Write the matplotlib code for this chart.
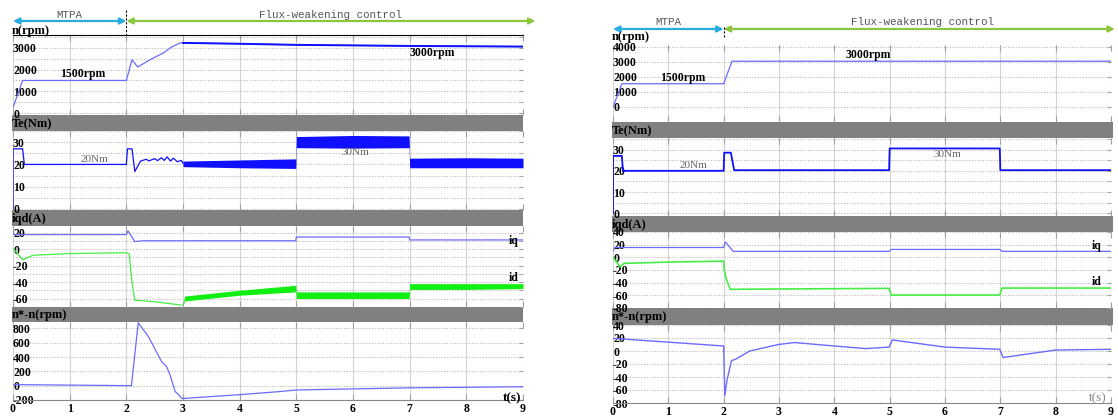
"""Speed, torque and current waveforms: measured (left) and simulated (right)."""

import matplotlib

matplotlib.use("Agg")
import matplotlib.pyplot as plt
from matplotlib.ticker import MultipleLocator

plt.rcParams["axes.unicode_minus"] = False

W, H = 1118, 416

# ---------------- left panel (measured) ----------------
t_n_left = [0, 0.17, 2.0, 2.1, 2.2, 2.45, 2.65, 2.8, 2.95, 3.0, 4.0, 5.0, 7.0, 9.0]
n_left = [250, 1500, 1500, 2450, 2120, 2500, 2760, 3040, 3230, 3230, 3190, 3140, 3090, 3060]

t_te_left = [0, 0.001, 0.17, 0.2, 2.0, 2.02, 2.1, 2.15, 2.25, 2.35, 2.4, 2.5, 2.55,
             2.62, 2.67, 2.72, 2.78, 2.83, 2.9, 2.97, 3.0]
te_left = [0, 27, 27, 20, 20, 27, 27, 16.8, 21.5, 22.3, 21.6, 22.6, 21.7,
           23.0, 21.8, 23.4, 21.5, 22.8, 21.2, 21.8, 20.5]
# noisy torque band after t = 3 s (lower / upper envelope)
t_te_band_left = [3.0, 4.0, 4.99, 5.0, 6.0, 6.99, 7.0, 8.0, 9.0]
te_lo_left = [19.0, 18.5, 18.2, 27.5, 27.3, 27.5, 18.5, 18.5, 18.5]
te_hi_left = [21.5, 22.0, 22.5, 32.5, 33.0, 32.8, 22.8, 23.0, 22.8]

t_iq_left = [0, 0.02, 2.0, 2.03, 2.15, 2.3, 4.99, 5.0, 6.99, 7.0, 9.0]
iq_left = [20, 17.5, 17.5, 22, 9, 10, 10, 14.5, 14.5, 11, 11]

t_id_left = [0, 0.17, 0.36, 1.0, 2.0, 2.05, 2.1, 2.15, 2.5, 2.98]
id_left = [1, -13, -7.5, -5.5, -4.5, -6, -40, -62, -64, -68]
t_id_band_left = [3.0, 3.03, 4.0, 4.99, 5.0, 6.0, 6.99, 7.0, 8.0, 9.0]
id_lo_left = [-68, -63, -56, -52, -60, -60, -60, -49, -49, -48]
id_hi_left = [-68, -57, -50, -44, -52, -52, -52, -42, -42, -42]

t_err_left = [0, 2.09, 2.21, 2.39, 2.62, 2.71, 2.77, 2.86, 2.95, 2.98, 4.0, 4.7, 5.0, 7.0, 9.0]
err_left = [15, 0, 879, 685, 338, 268, 153, -79, -149, -180, -125, -83, -60, -30, -15]

# ---------------- right panel (simulated) ----------------
t_n_right = [0, 0.16, 2.0, 2.15, 9.0]
n_right = [0, 1550, 1550, 3050, 3050]

t_te_right = [0, 0.001, 0.16, 0.18, 2.0, 2.01, 2.13, 2.19, 4.99, 5.0, 6.99, 7.0, 9.0]
te_right = [0, 27, 27, 20, 20, 28.5, 28.5, 20.3, 20.3, 30.5, 30.5, 20.3, 20.3]

t_iq_right = [0, 0.03, 2.0, 2.03, 2.17, 4.99, 5.03, 6.99, 7.03, 9.0]
iq_right = [10, 15.5, 15.5, 24.5, 9.5, 9.5, 12.5, 12.5, 9.5, 9.5]

t_id_right = [0, 0.13, 0.2, 1.0, 2.0, 2.01, 2.05, 2.12, 4.99, 5.03, 6.99, 7.03, 9.0]
id_right = [0, -15, -9.5, -7.5, -6, -20, -35, -50.5, -49, -59.5, -59.5, -48.5, -48.5]

t_err_right = [0, 2.0, 2.01, 2.02, 2.06, 2.14, 2.23, 2.47, 2.99, 3.28, 4.0, 4.57, 4.99,
               5.05, 6.0, 6.99, 7.05, 8.0, 9.0]
err_right = [19.5, 7.7, -30, -69, -45, -15, -12, 0, 10, 13, 7.7, 3.7, 6,
             17, 6, 2.6, -10, 1.5, 2.6]

x_ticks = [0, 1, 2, 3, 4, 5, 6, 7, 8, 9]
n_ticks_right = [0, 1000, 2000, 3000, 4000]

BLUE = "#6b6bff"
DBLUE = "#1010ff"
GREEN = "#44ee44"
BGREEN = "#11ee11"
CYAN = "#29abe2"
LGREEN = "#8cc63f"
BAND = "#808080"
SERIF = "Liberation Serif"


def add_box(fig, x0, x1, top, bottom):
    """Add an axes given pixel edges (top-left origin)."""
    return fig.add_axes([x0 / W, 1 - bottom / H, (x1 - x0) / W, (bottom - top) / H])


def style(ax, ylim, major, minor, bottom_axis=False, yticks=None):
    ax.set_xlim(0, 9)
    ax.set_ylim(*ylim)
    ax.set_facecolor("white")
    for s in ax.spines.values():
        s.set_visible(False)
    ax.set_xticks(x_ticks)
    if yticks is not None:
        ax.set_yticks(yticks)
    else:
        ax.yaxis.set_major_locator(MultipleLocator(major))
    if minor:
        ax.yaxis.set_minor_locator(MultipleLocator(minor))
    ax.xaxis.grid(True, color="#d4d4d4", lw=0.8)
    ax.yaxis.grid(True, which="both", ls=(0, (1, 1.5)), color="#b8b8b8", lw=0.8)
    ax.tick_params(axis="x", direction="in", top=True, bottom=True, length=4,
                   color="#a0a0a0", labelbottom=bottom_axis, pad=2)
    ax.tick_params(axis="y", which="both", direction="in", left=False, right=True,
                   length=3, color="#a0a0a0", pad=0)
    for lab in ax.get_yticklabels():
        lab.set_horizontalalignment("left")
        lab.set_fontfamily(SERIF)
        lab.set_fontweight("bold")
        lab.set_fontsize(8.5)
    for lab in ax.get_xticklabels():
        lab.set_fontfamily(SERIF)
        lab.set_fontweight("bold")
        lab.set_fontsize(8.5)
    if bottom_axis:
        ax.spines["bottom"].set_visible(True)
        ax.spines["bottom"].set_color("#888888")


def band(fig, x0, x1, top, bottom, label):
    ax = add_box(fig, x0, x1, top, bottom)
    ax.set_facecolor(BAND)
    ax.set_xticks([])
    ax.set_yticks([])
    for s in ax.spines.values():
        s.set_visible(False)
    ax.text(0.0, 0.45, label, transform=ax.transAxes, ha="left", va="center",
            fontfamily=SERIF, fontweight="bold", fontsize=9)
    return ax


def header(ax, y_arrow, y_text, y_dash, x_end):
    kw = dict(xycoords=("data", "axes fraction"), textcoords=("data", "axes fraction"),
              annotation_clip=False)
    ax.annotate("", xy=(2, y_arrow), xytext=(0, y_arrow),
                arrowprops=dict(arrowstyle="<|-|>", color=CYAN, lw=1.6,
                                mutation_scale=9, shrinkA=0, shrinkB=0), **kw)
    ax.annotate("", xy=(x_end, y_arrow), xytext=(2, y_arrow),
                arrowprops=dict(arrowstyle="<|-|>", color=LGREEN, lw=1.6,
                                mutation_scale=9, shrinkA=0, shrinkB=0), **kw)
    tr = ax.get_xaxis_transform()
    ax.text(1, y_text, "MTPA", transform=tr, ha="center", va="center",
            fontfamily="Liberation Mono", fontsize=7.8, color="#555555")
    ax.text(5.6, y_text, "Flux-weakening control", transform=tr, ha="center", va="center",
            fontfamily="Liberation Mono", fontsize=7.8, color="#555555")
    ax.plot([2, 2], list(y_dash), transform=tr, color="black", lw=0.8,
            ls=(0, (2, 1.5)), clip_on=False)


def bold(fig, x, y, s, size=8.5, color="black", weight="bold", ha="left"):
    fig.text(x / W, 1 - y / H, s, ha=ha, va="center", fontfamily=SERIF,
             fontweight=weight, fontsize=size, color=color)


def main():
    fig = plt.figure(figsize=(W / 100, H / 100), dpi=100)

    # ---------- left ----------
    x0, x1 = 13, 523
    band(fig, x0 - 1, x1, 115, 131, "Te(Nm)")
    band(fig, x0 - 1, x1, 210, 226, "iqd(A)")
    band(fig, x0 - 1, x1, 307, 322, "n*-n(rpm)")

    ax = add_box(fig, x0, x1, 35, 115)
    ax.plot(t_n_left, n_left, color=BLUE, lw=0.9)
    ax.plot(t_n_left[9:], n_left[9:], color=DBLUE, lw=1.4)
    style(ax, (-92, 3594), 1000, 500)
    ax.spines["top"].set_visible(True)
    ax.spines["top"].set_color("black")
    header(ax, 1.175, 1.25, (1.3125, 1.0), 9.22)
    ax.text(0.83, 1500, "1500rpm", va="bottom", fontfamily=SERIF,
            fontweight="bold", fontsize=8.5)
    ax.text(7.0, 3050, "3000rpm", va="top", fontfamily=SERIF,
            fontweight="bold", fontsize=8.5)

    ax = add_box(fig, x0, x1, 131, 210)
    ax.plot(t_te_left, te_left, color=DBLUE, lw=0.9)
    ax.fill_between(t_te_band_left, te_lo_left, te_hi_left, color=DBLUE, lw=0, zorder=2)
    style(ax, (-0.45, 35), 10, 5)
    ax.text(1.2, 20.3, "20Nm", va="bottom", fontfamily=SERIF, fontsize=8, color="#666666")
    ax.text(5.8, 27.2, "30Nm", va="top", fontfamily=SERIF, fontsize=8, color="#666666")

    ax = add_box(fig, x0, x1, 226, 307)
    ax.plot(t_iq_left, iq_left, color=BLUE, lw=0.9)
    ax.plot(t_id_left, id_left, color=GREEN, lw=0.9)
    ax.fill_between(t_id_band_left, id_lo_left, id_hi_left, color=BGREEN, lw=0, zorder=2)
    style(ax, (-70.3, 27.9), 20, 10)
    ax.text(8.75, 2, "iq", va="bottom", fontfamily=SERIF, fontweight="bold", fontsize=8.5)
    ax.text(8.75, -43, "id", va="bottom", fontfamily=SERIF, fontweight="bold", fontsize=8.5)

    ax = add_box(fig, x0, x1, 322, 400)
    ax.plot(t_err_left, err_left, color=BLUE, lw=0.9)
    style(ax, (-200, 889), 200, None, bottom_axis=True)
    bold(fig, 512, 398, "t(s)", size=9.5, ha="center")

    # ---------- right ----------
    x0, x1 = 613, 1111
    band(fig, x0 - 1, x1 + 2, 122, 138, "Te(Nm)")
    band(fig, x0 - 1, x1 + 2, 216, 232, "iqd(A)")
    band(fig, x0 - 1, x1 + 2, 308, 325, "n*-n(rpm)")

    ax = add_box(fig, x0, x1, 45, 122)
    ax.plot(t_n_right, n_right, color=BLUE, lw=0.9)
    style(ax, (-1000, 4130), None, None, yticks=n_ticks_right)
    header(ax, 1.208, 1.30, (1.24, 1.10), 9.07)
    ax.text(0.85, 1550, "1500rpm", va="bottom", fontfamily=SERIF,
            fontweight="bold", fontsize=8.5)
    ax.text(4.2, 3050, "3000rpm", va="bottom", fontfamily=SERIF,
            fontweight="bold", fontsize=8.5)
    bold(fig, 612, 37, "n(rpm)", size=9)

    ax = add_box(fig, x0, x1, 138, 216)
    ax.plot(t_te_right, te_right, color=DBLUE, lw=1.3)
    style(ax, (-1.2, 35.4), 10, 5)
    ax.text(1.2, 20.3, "20Nm", va="bottom", fontfamily=SERIF, fontsize=8, color="#666666")
    ax.text(5.8, 30.0, "30Nm", va="top", fontfamily=SERIF, fontsize=8, color="#666666")

    ax = add_box(fig, x0, x1, 232, 308)
    ax.plot(t_iq_right, iq_right, color=BLUE, lw=0.9)
    ax.plot(t_id_right, id_right, color=GREEN, lw=1.2)
    style(ax, (-80, 40), 20, None)
    ax.text(8.65, 8, "iq", va="bottom", fontfamily=SERIF, fontweight="bold", fontsize=8.5)
    ax.text(8.65, -49, "id", va="bottom", fontfamily=SERIF, fontweight="bold", fontsize=8.5)

    ax = add_box(fig, x0, x1, 325, 403)
    ax.plot(t_err_right, err_right, color=BLUE, lw=1.0)
    style(ax, (-80, 40), 20, None, bottom_axis=True)
    bold(fig, 1098, 398, "t(s)", size=9.5, weight="normal", color="#888888", ha="center")

    bold(fig, 12, 31, "n(rpm)", size=9)

    fig.savefig("out.png", dpi=100)


if __name__ == "__main__":
    main()
